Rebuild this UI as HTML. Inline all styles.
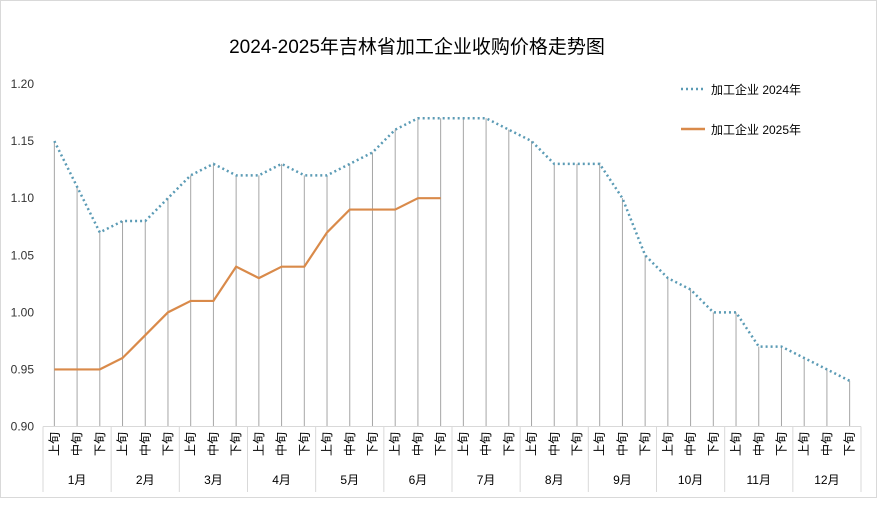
<!DOCTYPE html>
<html><head><meta charset="utf-8">
<style>
html,body{margin:0;padding:0;background:#fff;}
svg{display:block;font-family:"Liberation Sans","Noto Sans CJK SC",sans-serif;}
</style></head>
<body>
<svg id="chart" width="877" height="507">
<rect x="0.5" y="0.5" width="876" height="497" fill="#fff" stroke="#d9d9d9"/>
<text x="417" y="53" text-anchor="middle" font-size="19" fill="#000">2024-2025年吉林省加工企业收购价格走势图</text>
<g id="grid"></g><g id="drops"></g><g id="series"></g><g id="axes"></g>
<g>
<line x1="681" y1="89" x2="705" y2="89" stroke="#5b9bb5" stroke-width="2.5" stroke-dasharray="2,3"/>
<text x="711" y="94" font-size="12" fill="#000">加工企业 2024年</text>
<line x1="681" y1="129" x2="705" y2="129" stroke="#d98a4a" stroke-width="2.5"/>
<text x="711" y="134" font-size="12" fill="#000">加工企业 2025年</text>
</g>
</svg>
<script>
const months = ["1月","2月","3月","4月","5月","6月","7月","8月","9月","10月","11月","12月"];
const periods = ["上旬","中旬","下旬"];
const yTicks = [0.90,0.95,1.00,1.05,1.10,1.15,1.20];
const series2024 = [1.15,1.11,1.07,1.08,1.08,1.10,1.12,1.13,1.12,1.12,1.13,1.12,1.12,1.13,1.14,1.16,1.17,1.17,1.17,1.17,1.16,1.15,1.13,1.13,1.13,1.10,1.05,1.03,1.02,1.00,1.00,0.97,0.97,0.96,0.95,0.94];
const series2025 = [0.95,0.95,0.95,0.96,0.98,1.00,1.01,1.01,1.04,1.03,1.04,1.04,1.07,1.09,1.09,1.09,1.10,1.10];

const NS="http://www.w3.org/2000/svg";
const L=43,R=861,T=84,B=426.5;
const n=months.length*periods.length;
const bw=(R-L)/n;
const yMin=0.90,yMax=1.20;
function x(i){return L+bw*(i+0.5);}
function y(v){return B-(v-yMin)/(yMax-yMin)*(B-T);}
function mk(tag,attrs,parent){const e=document.createElementNS(NS,tag);for(const k in attrs)e.setAttribute(k,attrs[k]);parent.appendChild(e);return e;}
const axes=document.getElementById('axes');
const drops=document.getElementById('drops');
const ser=document.getElementById('series');

yTicks.forEach(t=>{
  const tx=mk('text',{x:34,y:y(t)+4,'text-anchor':'end','font-size':12,fill:'#333'},axes);
  tx.textContent=t.toFixed(2);
  
  
});
const ax=mk('line',{x1:L,y1:B,x2:R,y2:B,stroke:'#d9d9d9'},axes);



for(let m=0;m<=months.length;m++){
  const sx=L+m*3*bw;
  const sl=mk('line',{x1:sx,y1:B,x2:sx,y2:492,stroke:'#d9d9d9'},axes);
  
  
}
for(let i=0;i<n;i++){
  const lx=x(i);
  const t=mk('text',{x:0,y:0,'font-size':12,fill:'#000','text-anchor':'middle',transform:`translate(${lx+4},444) rotate(-90)`},axes);
  t.textContent=periods[i%3];
  
  
}
months.forEach((m,k)=>{
  const t=mk('text',{x:L+(k*3+1.5)*bw,y:484,'font-size':12,fill:'#000','text-anchor':'middle'},axes);
  t.textContent=m;
  
  
});

series2024.forEach((v,i)=>{
  const d=mk('line',{x1:x(i),y1:y(v),x2:x(i),y2:B,stroke:'#a6a6a6','stroke-width':1},drops);
  
  
});

const p24=mk('polyline',{points:series2024.map((v,i)=>x(i)+','+y(v)).join(' '),fill:'none',stroke:'#5b9bb5','stroke-width':2.5,'stroke-dasharray':'2,3'},ser);


const p25=mk('polyline',{points:series2025.map((v,i)=>x(i)+','+y(v)).join(' '),fill:'none',stroke:'#d98a4a','stroke-width':2.2},ser);


</script>
</body></html>
